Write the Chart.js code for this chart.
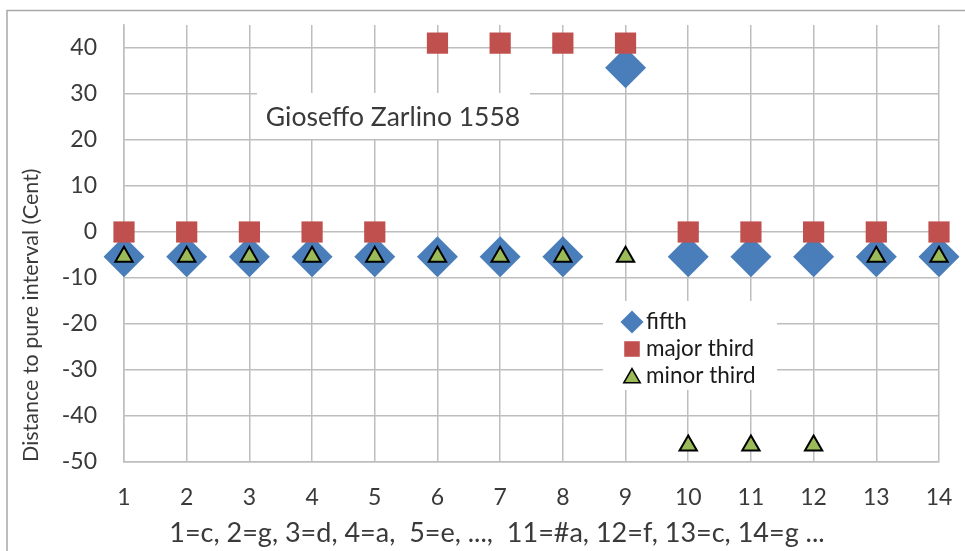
<!DOCTYPE html>
<html><head><meta charset="utf-8">
<script src="https://cdn.jsdelivr.net/npm/chart.js@4.4.1/dist/chart.umd.min.js"></script>
<style>html,body{margin:0;padding:0;background:#fff;overflow:hidden}</style>
</head><body>
<canvas id="c" width="965" height="551"></canvas>
<script>
// ---- data ----
const categories = ['1','2','3','4','5','6','7','8','9','10','11','12','13','14'];
const fifth      = [-5.38,-5.38,-5.38,-5.38,-5.38,-5.38,-5.38,-5.38,35.68,-5.38,-5.38,-5.38,-5.38,-5.38];
const majorThird = [0,0,0,0,0,41.06,41.06,41.06,41.06,0,0,0,0,0];
const minorThird = [-5.38,-5.38,-5.38,-5.38,-5.38,-5.38,-5.38,-5.38,-5.38,-46.44,-46.44,-46.44,-5.38,-5.38];
const seriesNames = ['fifth','major third','minor third'];
const yTickLabels = [-50,-40,-30,-20,-10,0,10,20,30,40];
const chartTitle = 'Gioseffo Zarlino 1558';
const xTitle = '1=c, 2=g, 3=d, 4=a,  5=e, ...,  11=#a, 12=f, 13=c, 14=g ...';
const yTitle = 'Distance to pure interval (Cent)';

const FONT = 'Lato, "Open Sans", sans-serif';
const TXT = '#3a3a3a';
const GRID = '#bdbdbd';
const NONE = 'rgba(0,0,0,0)';

function drawMarker(ctx, style, r, x, y, fill, stroke, bw) {
  ctx.save();
  ctx.fillStyle = fill; ctx.strokeStyle = stroke || fill; ctx.lineWidth = bw || 0;
  if (Chart.helpers && Chart.helpers.drawPoint) {
    Chart.helpers.drawPoint(ctx, {pointStyle: style, radius: r, rotation: 0, borderWidth: bw || 0}, x, y);
  } else {
    ctx.beginPath();
    if (style === 'rectRot') { ctx.moveTo(x-r,y); ctx.lineTo(x,y-r); ctx.lineTo(x+r,y); ctx.lineTo(x,y+r); }
    else if (style === 'rect') { const s=r*Math.SQRT1_2; ctx.rect(x-s,y-s,2*s,2*s); }
    else { ctx.moveTo(x,y-r); ctx.lineTo(x+0.866*r,y+r/2); ctx.lineTo(x-0.866*r,y+r/2); }
    ctx.closePath(); ctx.fill(); if (bw) ctx.stroke();
  }
  ctx.restore();
}

const decor = {
  id: 'decor',
  beforeDraw(chart) {
    const ctx = chart.ctx;
    ctx.save();
    ctx.fillStyle = '#fff'; ctx.fillRect(0,0,chart.width,chart.height);
    ctx.strokeStyle = '#a8a8a8'; ctx.lineWidth = 1.5;
    ctx.strokeRect(7, 10.5, 1100, 700);
    ctx.restore();
  },
  beforeDatasetsDraw(chart) {
    const ctx = chart.ctx;
    ctx.save();
    // title box
    ctx.fillStyle = '#fff';
    ctx.fillRect(257, 93, 273, 46);
    ctx.fillStyle = TXT;
    ctx.font = '26.5px ' + FONT;
    ctx.textAlign = 'center'; ctx.textBaseline = 'middle';
    ctx.fillText(chartTitle, 393, 117);
    // legend box
    ctx.fillStyle = '#fff';
    ctx.fillRect(603, 301, 174, 89);
    ctx.font = '22.5px ' + FONT;
    ctx.textAlign = 'left';
    const sizes = [11.5, 11, 9.5];
    chart.data.datasets.forEach((ds, i) => {
      const y = 322 + i * 27;
      drawMarker(ctx, ds.pointStyle, sizes[i], 632, y + (ds.pointStyle === 'triangle' ? 2 : 0), ds.backgroundColor, ds.borderColor, ds.pointStyle === 'triangle' ? 1.5 : 0);
      ctx.fillStyle = '#1a1a1a';
      ctx.fillText(ds.label, 646, y);
    });
    ctx.restore();
  },
  afterDraw(chart) {
    const ctx = chart.ctx;
    ctx.save();
    ctx.fillStyle = TXT;
    ctx.font = '27px ' + FONT;
    ctx.textAlign = 'center'; ctx.textBaseline = 'middle';
    ctx.fillText(xTitle, 497, 533);
    ctx.restore();
  }
};

new Chart(document.getElementById('c'), {
  type: 'line',
  data: {
    labels: categories,
    datasets: [
      { label: seriesNames[0], data: fifth, showLine: false, pointStyle: 'rectRot', pointRadius: 20.5, pointHoverRadius: 20.5,
        backgroundColor: '#4a7ebb', borderColor: '#4a7ebb', pointBorderWidth: 0, order: 3 },
      { label: seriesNames[1], data: majorThird, showLine: false, pointStyle: 'rect', pointRadius: 15, pointHoverRadius: 15,
        backgroundColor: '#c0504d', borderColor: '#c0504d', pointBorderWidth: 0, order: 2 },
      { label: seriesNames[2], data: minorThird, showLine: false, pointStyle: 'triangle', pointRadius: 10, pointHoverRadius: 10,
        backgroundColor: '#9bbb59', borderColor: '#000000', pointBorderWidth: 2, order: 1 }
    ]
  },
  options: {
    responsive: false,
    animation: false,
    devicePixelRatio: 1,
    events: [],
    layout: { padding: { left: 12, top: 25, right: 26, bottom: 0 } },
    plugins: { legend: { display: false }, tooltip: { enabled: false }, title: { display: false } },
    scales: {
      x: {
        offset: false,
        grid: { color: GRID, lineWidth: 1.5, drawTicks: true, tickLength: 22, tickColor: NONE, offset: false },
        border: { color: GRID, width: 1.5 },
        ticks: { autoSkip: false, maxRotation: 0, padding: 0, color: TXT, font: { family: FONT, size: 23 } },
        afterFit(s) { s.height = 89; }
      },
      y: {
        min: -50, max: 45,
        grid: { color: GRID, lineWidth: 1.5, drawTicks: true, tickLength: 27, tickColor: NONE },
        border: { color: GRID, width: 1.5 },
        ticks: { stepSize: 5, padding: 0, color: TXT, font: { family: FONT, size: 23 },
          callback: v => yTickLabels.includes(v) ? String(v) : '' },
        title: { display: true, text: yTitle, align: 'start', color: TXT,
          font: { family: FONT, size: 21.5 }, padding: { top: 6, bottom: 0 } },
        afterFit(s) { s.width = 112; }
      }
    }
  },
  plugins: [decor]
});
</script>
</body></html>
